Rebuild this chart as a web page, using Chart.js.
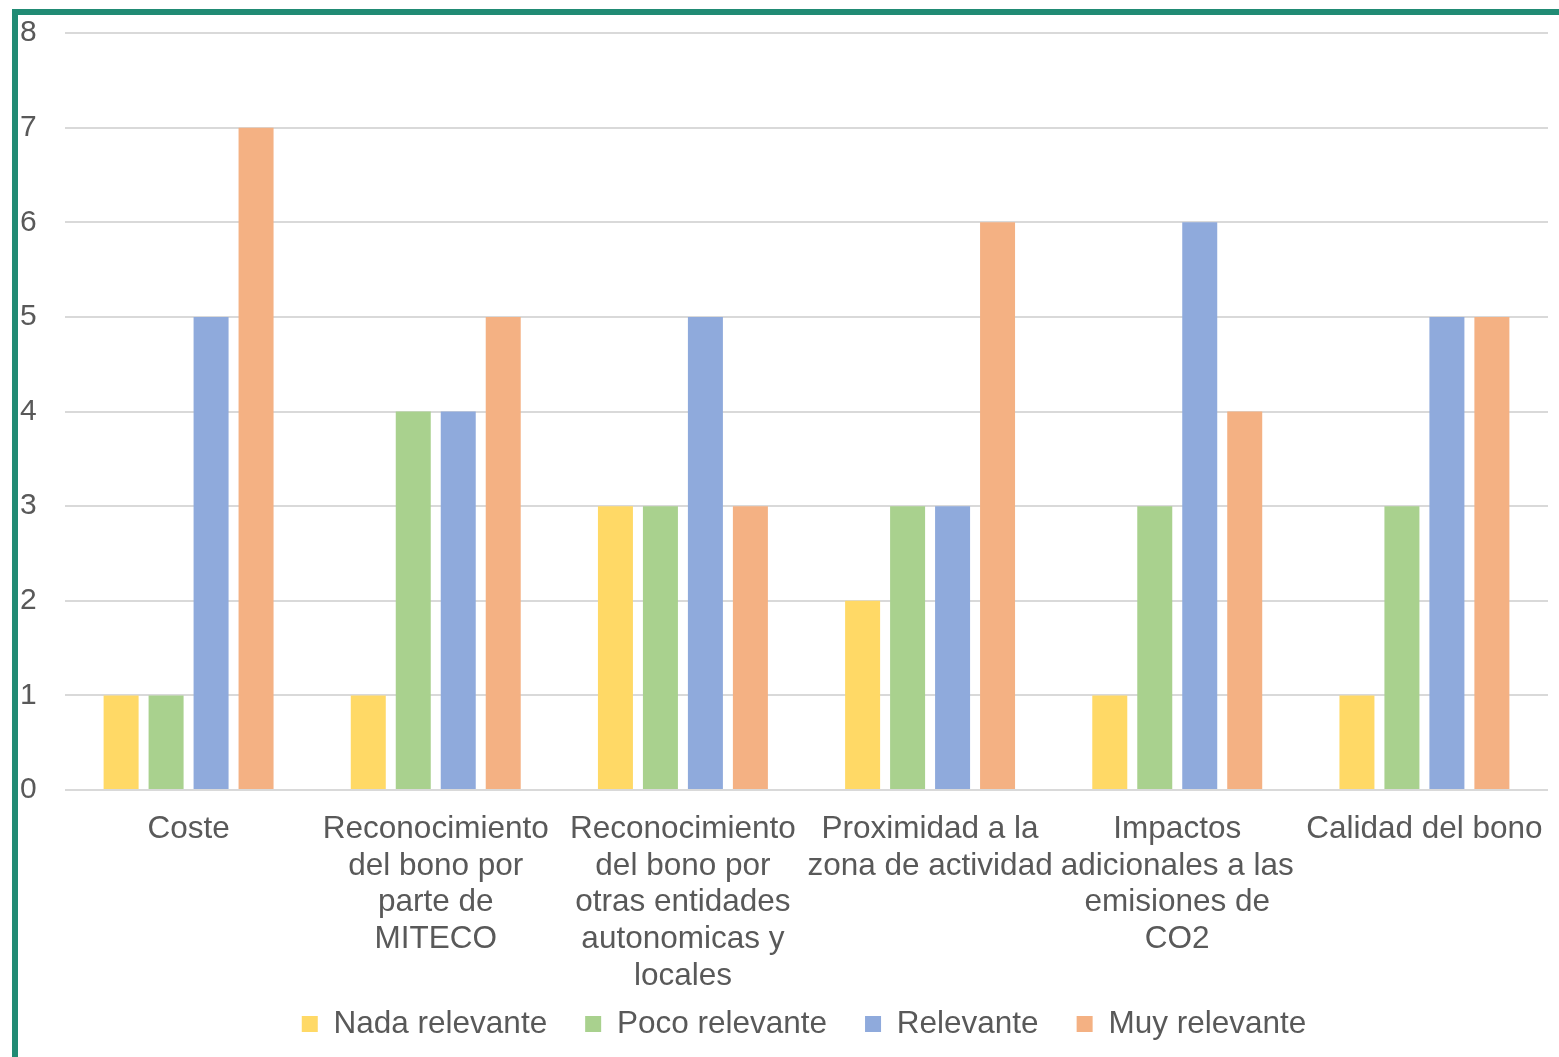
<!DOCTYPE html>
<html>
<head>
<meta charset="utf-8">
<script src="https://cdn.jsdelivr.net/npm/chart.js@4/dist/chart.umd.min.js"></script>
<style>
  html, body { margin: 0; padding: 0; background: #fff; }
  #wrap { position: relative; width: 1559px; height: 1057px; }
  #frame {
    position: absolute; left: 12px; top: 9px; right: 0; bottom: 0;
    border-left: 6px solid #218b74; border-top: 6px solid #218b74;
    pointer-events: none;
  }
</style>
</head>
<body>
<div id="wrap">
  <canvas id="chart" width="1559" height="1057"></canvas>
  <div id="frame"></div>
</div>
<script>
const categories = [
    'Coste',
    ['Reconocimiento', 'del bono por', 'parte de', 'MITECO'],
    ['Reconocimiento', 'del bono por', 'otras entidades', 'autonomicas y', 'locales'],
    ['Proximidad a la', 'zona de actividad'],
    ['Impactos', 'adicionales a las', 'emisiones de', 'CO2'],
    'Calidad del bono'
];
const nadaRelevante = [1, 1, 3, 2, 1, 1];
const pocoRelevante = [1, 4, 3, 3, 3, 3];
const relevante = [5, 4, 5, 3, 6, 5];
const muyRelevante = [7, 5, 3, 6, 4, 5];

const textColor = '#595959';
const fontFamily = '"Liberation Sans", Arial, sans-serif';

function series(label, data, color) {
    return {
        label: label,
        data: data,
        backgroundColor: color,
        borderWidth: 0,
        categoryPercentage: 0.728,
        barPercentage: 0.778
    };
}

// legend padding is also used vertically, so place the legend box by hand after layout
const legendShift = {
    id: 'legendShift',
    afterLayout(chart) {
        const lg = chart.legend;
        lg.top = 1024 - 38 - 15.75;
        lg.bottom = chart.height;
        lg.left += 20; lg.right += 20;
    }
};

const ctx = document.getElementById('chart').getContext('2d');
const chart = new Chart(ctx, {
    type: 'bar',
    data: {
        labels: categories,
        datasets: [
            series('Nada relevante', nadaRelevante, '#ffd966'),
            series('Poco relevante', pocoRelevante, '#a9d18e'),
            series('Relevante', relevante, '#8faadc'),
            series('Muy relevante', muyRelevante, '#f4b183')
        ]
    },
    plugins: [legendShift],
    options: {
        responsive: false,
        animation: false,
        layout: { padding: { left: 20, right: 11, top: 33, bottom: 6.5 } },
        plugins: {
            tooltip: { enabled: false },
            legend: {
                position: 'bottom',
                maxHeight: 35,
                labels: {
                    boxWidth: 16,
                    boxHeight: 16,
                    padding: 38,
                    color: textColor,
                    font: { family: fontFamily, size: 31.5 }
                }
            }
        },
        scales: {
            x: {
                // labels may run past the plot edges like in the original
                afterFit: function(scale) { scale.paddingLeft = 0; scale.paddingRight = 0; },
                grid: { display: false, drawTicks: false },
                border: { display: false },
                ticks: {
                    autoSkip: false,
                    maxRotation: 0,
                    minRotation: 0,
                    padding: 21,
                    color: textColor,
                    font: { family: fontFamily, size: 31.5, lineHeight: 1.165 }
                }
            },
            y: {
                min: 0,
                max: 8,
                afterFit: function(scale) { scale.width = 45; },
                grid: { color: '#d9d9d9', lineWidth: 2, drawTicks: false },
                border: { display: false },
                ticks: {
                    stepSize: 1,
                    crossAlign: 'far',
                    color: textColor,
                    font: { family: fontFamily, size: 30 }
                }
            }
        }
    }
});
</script>
</body>
</html>
